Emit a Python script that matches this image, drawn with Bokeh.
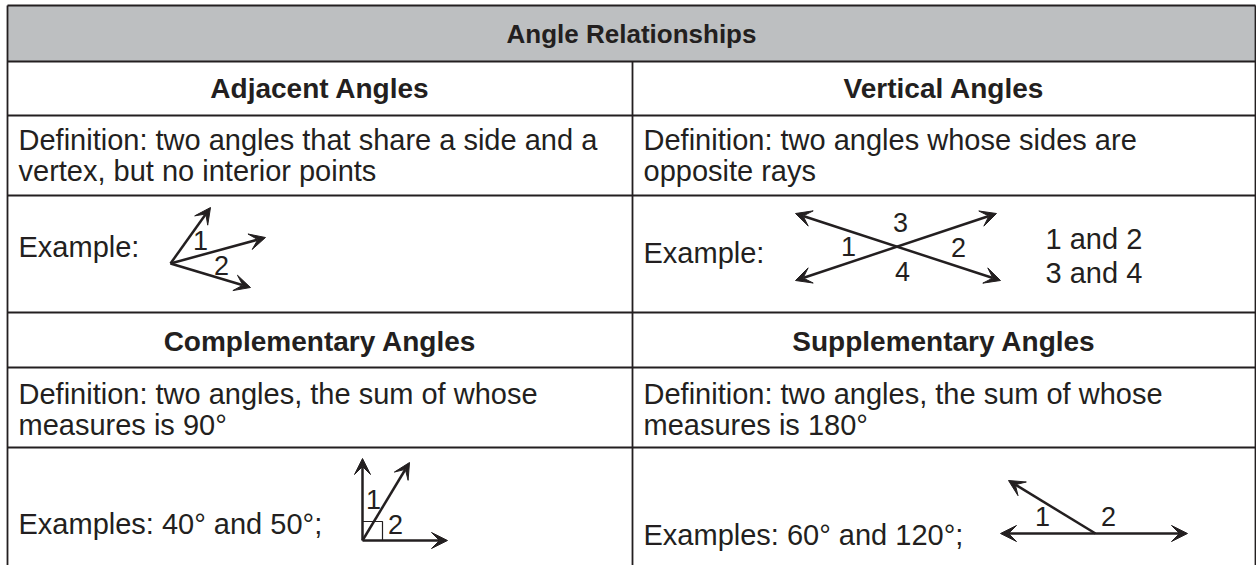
from bokeh.plotting import figure
from bokeh.models import Range1d, Arrow, VeeHead, ColumnDataSource
from bokeh.core.properties import value
from bokeh.embed import file_html
from bokeh.resources import INLINE

# ---------------- content ----------------
TITLE = "Angle Relationships"
HEADINGS = ["Adjacent Angles", "Vertical Angles",
            "Complementary Angles", "Supplementary Angles"]
DEFINITIONS = [
    ["Definition: two angles that share a side and a", "vertex, but no interior points"],
    ["Definition: two angles whose sides are", "opposite rays"],
    ["Definition: two angles, the sum of whose", "measures is 90\u00b0"],
    ["Definition: two angles, the sum of whose", "measures is 180\u00b0"],
]
EXAMPLES = ["Example:", "Example:",
            "Examples: 40\u00b0 and 50\u00b0;", "Examples: 60\u00b0 and 120\u00b0;"]
PAIRS = ["1 and 2", "3 and 4"]

# table grid (reference pixel coordinates)
ROW_Y = [5, 61, 115, 195, 312, 367, 447]
COL_X = [7, 632, 1255]
TABLE_BOTTOM = 566

# diagram geometry (reference pixel coordinates)
# adjacent angles: single-headed rays from a common vertex
ADJ_X0 = [170, 170, 170]
ADJ_Y0 = [263, 263, 263]
ADJ_X1 = [210, 265, 250]
ADJ_Y1 = [207, 237, 287]
ADJ_LABELS = ["1", "2"]
ADJ_LX = [200, 221]
ADJ_LY = [240, 265]

# vertical angles: two double-headed lines
VER_X0 = [795, 795]
VER_Y0 = [213, 280]
VER_X1 = [1000, 996]
VER_Y1 = [280, 213]
VER_LABELS = ["3", "1", "2", "4"]
VER_LX = [900, 848, 958, 902]
VER_LY = [222, 246, 247, 271]

# complementary angles
COM_X0 = [362, 362, 362]
COM_Y0 = [540, 540, 540]
COM_X1 = [362, 447, 409]
COM_Y1 = [458, 540, 462]
COM_SQ_X = [362, 382, 382]
COM_SQ_Y = [521, 521, 540]
COM_LABELS = ["1", "2"]
COM_LX = [373, 395]
COM_LY = [499, 524]

# supplementary angles
SUP_LINE_X = [1000, 1187]
SUP_LINE_Y = [533, 533]
SUP_RAY_X = [1095, 1008]
SUP_RAY_Y = [533, 480]
SUP_LABELS = ["1", "2"]
SUP_LX = [1042, 1108]
SUP_LY = [516, 516]

# ---------------- style ----------------
INK = "#231f20"
GRAY = "#bdbfc1"
FONT = value("Liberation Sans")
BODY_SIZE = "29px"
HEAD_SIZE = "28px"
TITLE_SIZE = "26px"
LABEL_SIZE = "27px"

p = figure(width=1256, height=565, output_backend="svg", toolbar_location=None,
           x_range=Range1d(0, 1256), y_range=Range1d(565, 0),
           min_border=0, background_fill_color="white", border_fill_color="white")
p.axis.visible = False
p.grid.visible = False
p.outline_line_color = None

# header band
p.quad(left=[COL_X[0]], right=[COL_X[2]], top=[ROW_Y[0]], bottom=[ROW_Y[1]],
       fill_color=GRAY, line_color=None)

# horizontal rules
p.segment(x0=[COL_X[0]] * len(ROW_Y), x1=[COL_X[2]] * len(ROW_Y), y0=ROW_Y, y1=ROW_Y,
          line_color=INK, line_width=1.8)
# vertical rules
p.segment(x0=[COL_X[0], COL_X[2], COL_X[1]], x1=[COL_X[0], COL_X[2], COL_X[1]],
          y0=[ROW_Y[0], ROW_Y[0], ROW_Y[1]], y1=[TABLE_BOTTOM] * 3,
          line_color=INK, line_width=1.8)

# title
p.text(x=[(COL_X[0] + COL_X[2]) / 2], y=[33], text=[TITLE],
       text_font=FONT, text_font_size=TITLE_SIZE, text_font_style="bold",
       text_color=INK, text_align="center", text_baseline="middle")

# headings
lc = (COL_X[0] + COL_X[1]) / 2
rc = (COL_X[1] + COL_X[2]) / 2
p.text(x=[lc, rc, lc, rc], y=[88, 88, 341, 341],
       text=HEADINGS, text_font=FONT, text_font_size=HEAD_SIZE, text_font_style="bold",
       text_color=INK, text_align="center", text_baseline="middle")

# definitions
pad = 11
def_x, def_y, def_t = [], [], []
for i, lines in enumerate(DEFINITIONS):
    x = COL_X[0] + pad if i % 2 == 0 else COL_X[1] + pad
    first = 139 if i < 2 else 393
    for j, t in enumerate(lines):
        def_x.append(x)
        def_y.append(first + 31 * j)
        def_t.append(t)
p.text(x=def_x, y=def_y, text=def_t, text_font=FONT, text_font_size=BODY_SIZE,
       text_color=INK, text_align="left", text_baseline="middle")

# examples
p.text(x=[COL_X[0] + pad, COL_X[1] + pad, COL_X[0] + pad, COL_X[1] + pad],
       y=[246, 252, 523, 534], text=EXAMPLES, text_font=FONT, text_font_size=BODY_SIZE,
       text_color=INK, text_align="left", text_baseline="middle")
p.text(x=[1045, 1045], y=[238, 272], text=PAIRS, text_font=FONT, text_font_size=BODY_SIZE,
       text_color=INK, text_align="left", text_baseline="middle")

# diagram labels
p.text(x=ADJ_LX + VER_LX + COM_LX + SUP_LX, y=ADJ_LY + VER_LY + COM_LY + SUP_LY,
       text=ADJ_LABELS + VER_LABELS + COM_LABELS + SUP_LABELS,
       text_font=FONT, text_font_size=LABEL_SIZE, text_color=INK,
       text_align="center", text_baseline="middle")

# right-angle box
p.line(x=COM_SQ_X, y=COM_SQ_Y, line_color=INK, line_width=1.2)


def head():
    return VeeHead(size=16, fill_color=INK, line_color=INK, line_width=1)


single = ColumnDataSource(dict(
    x0=ADJ_X0 + COM_X0 + [SUP_RAY_X[0]],
    y0=ADJ_Y0 + COM_Y0 + [SUP_RAY_Y[0]],
    x1=ADJ_X1 + COM_X1 + [SUP_RAY_X[1]],
    y1=ADJ_Y1 + COM_Y1 + [SUP_RAY_Y[1]],
))
p.add_layout(Arrow(end=head(), source=single, x_start="x0", y_start="y0",
                   x_end="x1", y_end="y1", line_color=INK, line_width=2.5))

double = ColumnDataSource(dict(
    x0=VER_X0 + [SUP_LINE_X[0]],
    y0=VER_Y0 + [SUP_LINE_Y[0]],
    x1=VER_X1 + [SUP_LINE_X[1]],
    y1=VER_Y1 + [SUP_LINE_Y[1]],
))
p.add_layout(Arrow(start=head(), end=head(), source=double, x_start="x0", y_start="y0",
                   x_end="x1", y_end="y1", line_color=INK, line_width=2.5))

open("out.html", "w").write(file_html(p, INLINE))
